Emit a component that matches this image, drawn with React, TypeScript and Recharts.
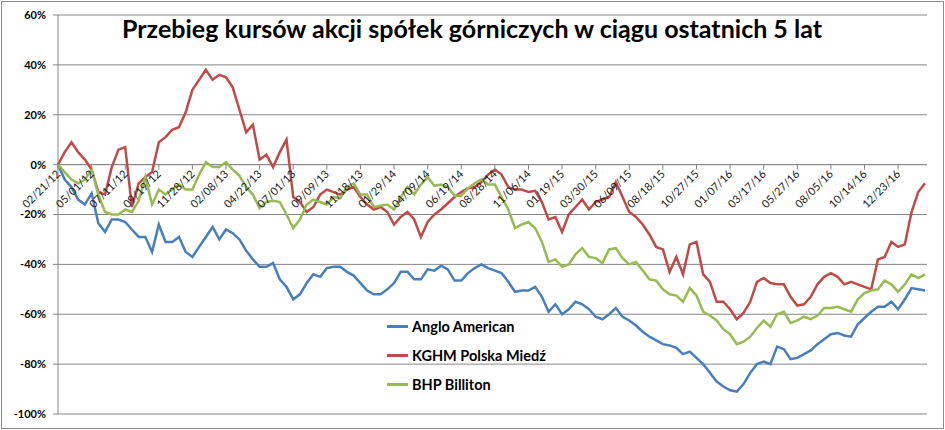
import React from 'react';
import {
  LineChart,
  Line,
  XAxis,
  YAxis,
  CartesianGrid,
  ReferenceLine,
  ReferenceDot,
  Legend,
} from 'recharts';

// sampling step in trading days between stored points
const STEP = 10;
const TICK_EVERY = 50;

const tickLabels = [
  '02/21/12', '05/01/12', '07/11/12', '09/19/12', '11/28/12', '02/08/13',
  '04/22/13', '07/01/13', '09/09/13', '11/18/13', '01/29/14', '04/09/14',
  '06/19/14', '08/28/14', '11/06/14', '01/19/15', '03/30/15', '06/09/15',
  '08/18/15', '10/27/15', '01/07/16', '03/17/16', '05/27/16', '08/05/16',
  '10/14/16', '12/23/16',
];

const yTicks = [60, 40, 20, 0, -20, -40, -60, -80, -100];

const seriesNames = ['Anglo American', 'KGHM Polska Miedź', 'BHP Billiton'];
const seriesColors = ['#4A7EBB', '#BE4B48', '#98B954'];

const anglo = [
  0, -6, -9, -14, -16, -11.5, -23.5, -27, -22, -22,
  -23, -26, -29, -29, -35, -24, -31, -31, -29, -35,
  -37, -33, -29, -25, -30, -26, -27.5, -30, -34.5, -38,
  -41, -41, -39.5, -46, -49, -54, -52, -47.5, -44, -45,
  -41.5, -41, -41, -43, -44.5, -47.5, -50.5, -52, -52, -50,
  -47.5, -43, -43, -46, -46, -42, -42.5, -40.5, -42, -46.5,
  -46.5, -43.5, -41.5, -40, -41.5, -42.5, -43.5, -47, -51, -50.5,
  -50.5, -49, -53, -59, -56, -60, -58, -55, -56, -58,
  -61, -62, -60, -57.5, -61, -62.5, -64.5, -67, -69, -70.5,
  -72, -72.5, -73.5, -76, -75, -77.5, -80, -83.5, -87, -89,
  -90.5, -91, -88, -83.5, -80, -79, -80, -73, -74, -78,
  -77.5, -76, -74.5, -72, -70, -68, -67.5, -68.5, -69, -64,
  -61.5, -59, -57, -57, -55, -58, -54, -49.5, -50, -50.5,
];

const kghm = [
  0, 5, 9, 5, 2, -2, -11, -12, -1, 6,
  7, -17, -7.5, -5, -3, 9, 11, 14, 15, 21,
  30, 34, 38, 34, 36, 35, 31, 22, 13, 16,
  2, 4, -1, 5, 10, -13, -15, -19, -17, -12,
  -10, -11, -12, -10, -9, -13, -16, -18, -17, -19,
  -24, -21, -19, -22, -29, -23, -20, -18, -15.5, -13,
  -11, -9.5, -9, -7, -4, -2, -4, -9, -10, -10,
  -11, -10.5, -15, -22, -21, -27, -20, -17, -14, -18,
  -15, -14, -13, -7, -13, -19, -21, -24, -28, -33,
  -34, -43, -37, -44, -32, -31, -44, -47, -55, -55,
  -58, -62, -59.5, -55, -47, -45.5, -47.5, -48, -48, -53,
  -56.5, -56, -53, -48, -45, -43.5, -45, -48, -47, -48,
  -49, -50, -38, -37, -31, -33, -32, -19, -11, -7.5,
];

const bhp = [
  0, -3, -6, -7.5, -6, -2, -12, -19, -20, -20,
  -18, -19, -14.5, -5, -16, -10, -12, -10, -8, -10,
  -10, -4, 1, -1, -1, 1, -2, -4.5, -9, -12,
  -17.5, -15, -14.5, -15, -20, -25.5, -22, -16, -14, -15,
  -16, -13, -13.5, -9, -7.5, -12, -12, -17, -16.5, -16,
  -18, -13, -9, -12, -8, -5, -8.5, -8, -9, -12.5,
  -12.5, -9.5, -7.5, -6, -8, -8, -13, -18, -25.5, -24,
  -23, -25.5, -31, -39, -38, -41, -40, -36, -33.5, -37,
  -37.5, -39.5, -34, -33.5, -37.5, -40, -39, -42.5, -46, -46.5,
  -50, -52, -52.5, -55, -49.5, -52.5, -59, -60.5, -62.5, -66,
  -68, -72, -71, -69, -65.5, -62.5, -65, -60, -59, -63.5,
  -62.5, -61, -62, -60.5, -57.5, -57.5, -57, -58, -59, -54,
  -51.5, -50.5, -50, -46.5, -48, -51, -48, -44, -45.5, -44,
];

const data = anglo.map((v, i) => ({
  day: i * STEP,
  anglo: v,
  kghm: kghm[i],
  bhp: bhp[i],
}));

const xTicks = tickLabels.map((_, i) => i * TICK_EVERY);

const FONT = 'Lato, "DejaVu Sans", sans-serif';
const GRID = '#878787';

function XTick(props: any) {
  const { cx, cy, text } = props;
  if (cx == null || cy == null) return null;
  const tx = cx + 3;
  const ty = cy + 10;
  return (
    <g>
      <line x1={cx} y1={cy} x2={cx} y2={cy + 5} stroke={GRID} strokeWidth={1} />
      <text
        x={tx}
        y={ty}
        transform={`rotate(-45 ${tx} ${ty})`}
        textAnchor="end"
        fontSize={11}
        fontFamily={FONT}
        fill="#1a1a1a"
      >
        {text}
      </text>
    </g>
  );
}

function LegendBox() {
  return (
    <div style={{ fontFamily: FONT, fontWeight: 700, fontSize: 14.5, color: '#000' }}>
      {seriesNames.map((n, i) => (
        <div
          key={n}
          style={{ display: 'flex', alignItems: 'center', height: 29 }}
        >
          <div
            style={{
              width: 21,
              height: 3,
              background: seriesColors[i],
              marginRight: 4,
            }}
          />
          <span>{n}</span>
        </div>
      ))}
    </div>
  );
}

export default function App() {
  return (
    <div
      style={{
        position: 'absolute',
        left: 0,
        top: 0,
        width: 945,
        height: 430,
        background: '#fff',
      }}
    >
      <LineChart
        width={945}
        height={430}
        data={data}
        margin={{ top: 15, right: 18, bottom: 16, left: 0 }}
      >
        <CartesianGrid vertical={false} stroke={GRID} strokeWidth={1} />
        <XAxis
          dataKey="day"
          type="number"
          domain={[0, 1293]}
          ticks={xTicks}
          hide
        />
        <YAxis
          width={58}
          domain={[-100, 60]}
          ticks={yTicks}
          interval={0}
          tickFormatter={(v: number) => `${v}%`}
          axisLine={{ stroke: GRID }}
          tickLine={{ stroke: GRID }}
          tickSize={5}
          tickMargin={7}
          tick={{ fontSize: 11, fontWeight: 700, fill: '#000', fontFamily: FONT }}
        />
        <ReferenceLine y={0} stroke={GRID} strokeWidth={1} />
        {tickLabels.map((lab, i) => (
          <ReferenceDot
            key={lab}
            x={xTicks[i]}
            y={0}
            r={0}
            ifOverflow="visible"
            shape={(p: any) => <XTick {...p} text={lab} />}
          />
        ))}
        <Line
          type="linear"
          dataKey="anglo"
          name={seriesNames[0]}
          stroke={seriesColors[0]}
          strokeWidth={2.5}
          dot={false}
          isAnimationActive={false}
        />
        <Line
          type="linear"
          dataKey="kghm"
          name={seriesNames[1]}
          stroke={seriesColors[1]}
          strokeWidth={2.5}
          dot={false}
          isAnimationActive={false}
        />
        <Line
          type="linear"
          dataKey="bhp"
          name={seriesNames[2]}
          stroke={seriesColors[2]}
          strokeWidth={2.5}
          dot={false}
          isAnimationActive={false}
        />
        <Legend
          layout="vertical"
          verticalAlign="middle"
          align="center"
          content={() => <LegendBox />}
          wrapperStyle={{ left: 387, top: 312, width: 200, height: 90 }}
        />
      </LineChart>
      <svg
        width={945}
        height={60}
        style={{ position: 'absolute', left: 0, top: 0, pointerEvents: 'none' }}
      >
        <text
          x={472}
          y={38}
          textAnchor="middle"
          fontFamily={FONT}
          fontWeight={700}
          fontSize={24}
          fill="#000"
          textLength={700}
          lengthAdjust="spacingAndGlyphs"
        >
          Przebieg kursów akcji spółek górniczych w ciągu ostatnich 5 lat
        </text>
      </svg>
      <div
        style={{
          position: 'absolute',
          left: 1,
          top: 1,
          width: 941,
          height: 426,
          border: '1px solid #8c8c8c',
          pointerEvents: 'none',
        }}
      />
    </div>
  );
}
